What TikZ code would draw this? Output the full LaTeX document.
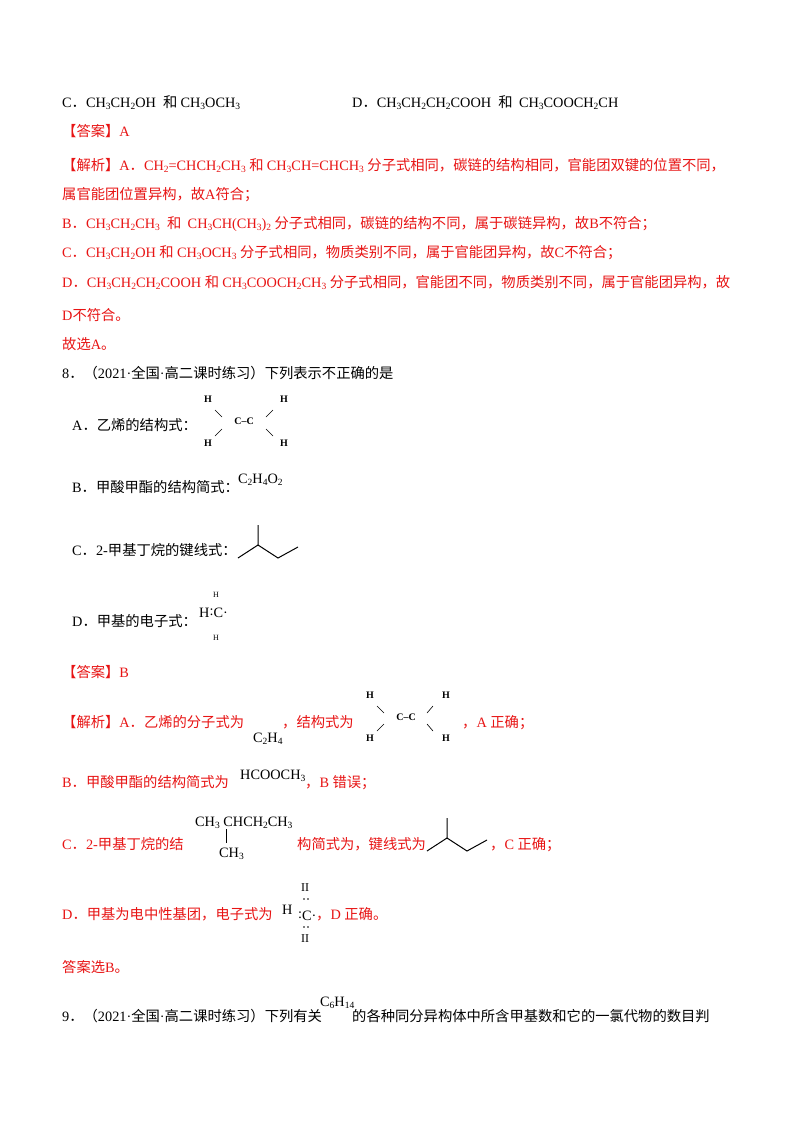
\documentclass[tikz,border=0pt]{standalone}
\usepackage{fontspec}
\setmainfont{Liberation Serif}
\newfontfamily\cjk{Noto Sans CJK SC}
\newfontfamily\lat{Liberation Serif}
\XeTeXinterchartokenstate=1
\newXeTeXintercharclass\CJKc
\count255="3000 \loop \XeTeXcharclass\count255=\CJKc \ifnum\count255<"303F \advance\count255 1 \repeat
\count255="4E00 \loop \XeTeXcharclass\count255=\CJKc \ifnum\count255<"9FFF \advance\count255 1 \repeat
\count255="FF00 \loop \XeTeXcharclass\count255=\CJKc \ifnum\count255<"FFEF \advance\count255 1 \repeat
\XeTeXinterchartoks 0 \CJKc={\cjk}
\XeTeXinterchartoks 4095 \CJKc={\cjk}
\XeTeXinterchartoks \CJKc 0={\lat}
\XeTeXinterchartoks 4095 0={\lat}
\newcommand\s[1]{\raisebox{-0.35ex}{\lat\fontsize{9.5}{9.5}\selectfont #1}}
\definecolor{ans}{RGB}{232,20,20}
\begin{document}
\begin{tikzpicture}[x=1pt,y=-1pt,
  t/.style={anchor=base west,inner sep=0pt,font=\fontsize{14.3}{16}\selectfont},
  r/.style={t,text=ans},
  sm/.style={anchor=base,inner sep=0pt,font=\fontsize{10}{10}\selectfont},
  bd/.style={line width=0.6pt}]
\useasboundingbox[fill=white] (0,0) rectangle (800,1132);
\node[t] (l1) at (62,107) {C．CH\s3CH\s2OH\ \ 和 CH\s3OCH\s3};
\node[t] (l1d) at (352,107) {D．CH\s3CH\s2CH\s2COOH\ \ 和\ \ CH\s3COOCH\s2CH};
\node[r] (a1) at (62,136) {【答案】A};
\node[r] (j1) at (62,170) {【解析】A．CH\s2=CHCH\s2CH\s3 和 CH\s3CH=CHCH\s3 分子式相同，碳链的结构相同，官能团双键的位置不同，};
\node[r] (j2) at (62,199) {属官能团位置异构，故A符合；};
\node[r] (j3) at (62,228) {B．CH\s3CH\s2CH\s3\ \ 和\ \ CH\s3CH(CH\s3)\s2 分子式相同，碳链的结构不同，属于碳链异构，故B不符合；};
\node[r] (j4) at (62,257) {C．CH\s3CH\s2OH 和 CH\s3OCH\s3 分子式相同，物质类别不同，属于官能团异构，故C不符合；};
\node[r] (j5) at (62,287) {D．CH\s3CH\s2CH\s2COOH 和 CH\s3COOCH\s2CH\s3 分子式相同，官能团不同，物质类别不同，属于官能团异构，故};
\node[r] (j6) at (62,320) {D不符合。};
\node[r] (j7) at (62,349) {故选A。};
\node[t] (q8) at (62,378) {8．（2021·全国·高二课时练习）下列表示不正确的是};
\node[t] (qa) at (72,430) {A．乙烯的结构式：};
\node[sm] (h1) at (208,402) {\textbf{H}};
\node[sm] (h2) at (284,402) {\textbf{H}};
\node[sm] (h3) at (208,446) {\textbf{H}};
\node[sm] (h4) at (284,446) {\textbf{H}};
\node[sm] (cc) at (244,424) {\textbf{C–C}};
\draw[bd] (215,410) -- (222,417) (215,436) -- (222,429) (273,410) -- (266,417) (273,436) -- (266,429);
\node[t] (qb) at (72,492) {B．甲酸甲酯的结构简式：};
\node[t] (fb) at (238,483) {C\s2H\s4O\s2};
\node[t] (qc) at (72,555) {C．2-甲基丁烷的键线式：};
\draw[bd,line width=1pt] (238,558) -- (258,545) -- (258,525) (258,545) -- (278,558) -- (298,547);
\node[t] (qd) at (72,626) {D．甲基的电子式：};
\node[sm,font=\fontsize{8}{8}\selectfont] (dh1) at (216,597) {H};
\node[sm,font=\fontsize{8}{8}\selectfont] (dh2) at (216,640) {H};
\node[t] (dc) at (199,617) {H\raisebox{0.3ex}{:}C·};
\node[r] (a2) at (62,677) {【答案】B};
\node[r] (k1) at (62,727) {【解析】A．乙烯的分子式为};
\node[t] (k1f) at (253,742) {C\s2H\s4};
\node[r] (k1b) at (282,727) {，结构式为};
\node[sm] (e1) at (370,698) {\textbf{H}};
\node[sm] (e2) at (446,698) {\textbf{H}};
\node[sm] (e3) at (370,741) {\textbf{H}};
\node[sm] (e4) at (446,741) {\textbf{H}};
\node[sm] (ecc) at (406,720) {\textbf{C–C}};
\draw[bd] (377,706) -- (384,713) (377,731) -- (384,724) (433,706) -- (427,713) (433,731) -- (427,724);
\node[r] (k1c) at (462,727) {，A 正确；};
\node[r] (k2) at (62,787) {B．甲酸甲酯的结构简式为};
\node[t] (k2f) at (240,779) {HCOOCH\s3};
\node[r] (k2b) at (305,787) {，B 错误；};
\node[r] (k3) at (62,849) {C．2-甲基丁烷的结};
\node[t] (k3f) at (195,826) {CH\s3 CHCH\s2CH\s3};
\node[t] (k3g) at (219,857) {CH\s3};
\draw[bd] (226,829) -- (226,843);
\node[r] (k3b) at (297,849) {构简式为，键线式为};
\draw[bd,line width=1pt] (427,851) -- (447,838) -- (447,818) (447,838) -- (467,851) -- (487,840);
\node[r] (k3c) at (490,849) {，C 正确；};
\node[r] (k4) at (62,919) {D．甲基为电中性基团，电子式为};
\node[t] (k4h) at (282,914) {H};
\node[t,font=\fontsize{12}{12}\selectfont] (k4a) at (301,891) {II};
\node[t] (k4c) at (298,920) {\raisebox{0.3ex}{:}C·};
\node[t,font=\fontsize{12}{12}\selectfont] (k4b) at (301,942) {II};
\fill (304,899) circle (0.8) (308,899) circle (0.8) (304,927) circle (0.8) (308,927) circle (0.8);
\node[r] (k4d) at (316,919) {，D 正确。};
\node[r] (k5) at (62,972) {答案选B。};
\node[t] (q9) at (62,1021) {9．（2021·全国·高二课时练习）下列有关};
\node[t] (q9f) at (320,1006) {C\s6H\s{14}};
\node[t] (q9b) at (352,1021) {的各种同分异构体中所含甲基数和它的一氯代物的数目判};
\end{tikzpicture}
\end{document}
